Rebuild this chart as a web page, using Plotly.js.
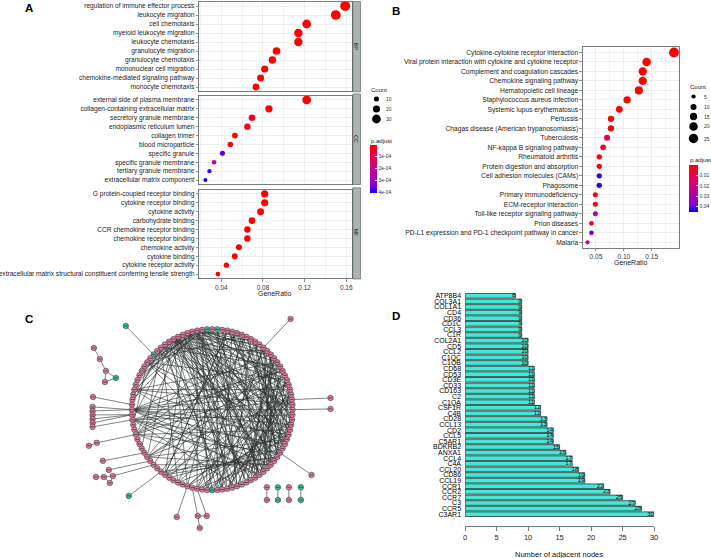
<!DOCTYPE html>
<html><head><meta charset="utf-8">
<script src="https://cdn.plot.ly/plotly-3.0.1.min.js"></script>
<style>html,body{margin:0;padding:0;background:#fff}#chart{width:711px;height:558px}</style>
</head><body><div id="chart"></div>
<script>
// ---------- Panel A : GO enrichment ----------
const bpTerms = ['regulation of immune effector process','leukocyte migration','cell chemotaxis','myeloid leukocyte migration','leukocyte chemotaxis','granulocyte migration','granulocyte chemotaxis','mononuclear cell migration','chemokine-mediated signaling pathway','monocyte chemotaxis'];
const bpRatio = [0.159,0.150,0.122,0.114,0.114,0.093,0.089,0.0816,0.0777,0.0733];
const bpCount = [39,37,30,28,28,23,22,20,19,18];
const bpPadj  = [2e-12,5e-15,3e-11,4e-10,6e-11,1e-10,2e-10,3e-9,5e-10,1e-8];

const ccTerms = ['external side of plasma membrane','collagen-containing extracellular matrix','secretory granule membrane','endoplasmic reticulum lumen','collagen trimer','blood microparticle','specific granule','specific granule membrane','tertiary granule membrane','extracellular matrix component'];
const ccRatio = [0.122,0.0857,0.0694,0.065,0.053,0.0486,0.041,0.033,0.0285,0.0246];
const ccCount = [30,21,17,16,13,12,10,8,7,6];
const ccPadj  = [1e-13,2e-6,4e-5,3e-5,1e-6,2e-5,3.7e-4,2.4e-4,3.8e-4,4.0e-4];

const mfTerms = ['G protein-coupled receptor binding','cytokine receptor binding','cytokine activity','carbohydrate binding','CCR chemokine receptor binding','chemokine receptor binding','chemokine activity','cytokine binding','cytokine receptor activity','extracellular matrix structural constituent conferring tensile strength'];
const mfRatio = [0.0816,0.0816,0.0777,0.0694,0.065,0.065,0.0569,0.0528,0.0448,0.0367];
const mfCount = [20,20,19,17,16,16,14,13,11,9];
const mfPadj  = [1e-9,3e-10,2e-8,1e-6,5e-11,4e-10,3e-9,2e-7,6e-6,1e-5];

const aTicks = [0.04,0.08,0.12,0.16];
const aTickText = ['0.04','0.08','0.12','0.16'];
const aMinor = [0.02,0.06,0.10,0.14];
const aCountLegend = [10,20,30];
const aPadjTicks = [1e-4,2e-4,3e-4,4e-4];
const aPadjText = ['1e-04','2e-04','3e-04','4e-04'];

// ---------- Panel B : KEGG enrichment ----------
const keggTerms = ['Cytokine-cytokine receptor interaction','Viral protein interaction with cytokine and cytokine receptor','Complement and coagulation cascades','Chemokine signaling pathway','Hematopoietic cell lineage','Staphylococcus aureus infection','Systemic lupus erythematosus','Pertussis','Chagas disease (American trypanosomiasis)','Tuberculosis','NF-kappa B signaling pathway','Rheumatoid arthritis','Protein digestion and absorption','Cell adhesion molecules (CAMs)','Phagosome','Primary immunodeficiency','ECM-receptor interaction','Toll-like receptor signaling pathway','Prion diseases','PD-L1 expression and PD-1 checkpoint pathway in cancer','Malaria'];
const keggRatio = [0.190,0.141,0.134,0.134,0.127,0.106,0.092,0.077,0.077,0.070,0.063,0.056,0.056,0.056,0.056,0.049,0.049,0.049,0.042,0.042,0.035];
const keggCount = [27,20,19,19,18,15,13,11,11,10,9,8,8,8,8,7,7,7,6,6,5];
const keggPadj  = [1e-15,1e-10,1e-9,5e-7,1e-8,2e-7,1e-4,6e-5,3e-4,0.010,0.004,0.002,0.0015,0.042,0.043,0.003,0.002,0.029,0.0025,0.040,0.021];
const bTicks = [0.05,0.10,0.15];
const bTickText = ['0.05','0.10','0.15'];
const bMinor = [0.025,0.075,0.125,0.175];
const bCountLegend = [5,10,15,20,25];
const bPadjTicks = [0.01,0.02,0.03,0.04];
const bPadjText = ['0.01','0.02','0.03','0.04'];

// ---------- Panel C : PPI network ----------
const ringSize = 100;             // nodes placed on the circle layout
const ringTeal = [24,26,38,75];
// satellite nodes (layout coordinates, circle radius = 1)
const outerX = [-1.075,0.975,-1.472,-1.398,-1.323,-1.199,-1.335,-1.484,-1.488,-1.488,-1.488,-1.488,-1.488,-1.488,-1.534,-1.435,-1.360,-1.286,-1.447,-1.348,-1.236,-1.273,-1.037,-0.441,-0.180,-0.068,-0.155,1.472,1.472,1.236,0.680,0.680,0.817,0.817,0.954,0.954,1.103,1.103];
const outerY = [1.040,1.127,0.766,0.630,0.481,0.394,0.344,0.158,0.034,-0.016,-0.065,-0.115,-0.165,-0.214,-0.449,-0.412,-0.636,-0.748,-0.836,-0.836,-0.824,-0.911,-1.072,-1.333,-1.320,-1.320,-1.470,0.145,0.009,-0.811,-0.964,-1.122,-0.964,-1.122,-0.964,-1.122,-0.964,-1.122];
const outerTeal = [1,0,0,0,0,1,0,0,0,0,0,0,0,0,0,0,0,0,0,0,0,0,1,0,0,0,0,0,0,0,0,0,1,1,0,0,1,1];
const edgeList = `
33-0 33-2 33-5 33-8 33-12 33-17 33-80 33-83 33-85 33-88 33-90 33-93 33-96 33-98 33-47 33-52 33-60 33-70 33-76
30-3 30-6 30-10 30-15 30-20 30-82 30-87 30-91 30-94 30-97 30-99 30-42 30-55 30-65 30-75 30-79
28-4 28-7 28-11 28-14 28-16 28-18 28-84 28-86 28-89 28-92 28-72 28-77 28-81
36-1 36-9 36-13 36-83 36-95 36-49 36-58 36-68 36-78
40-84 40-90 40-96 40-6 40-53 40-19
27-74 27-78 27-85 27-93 27-5 27-12
50-0 50-3 50-5 50-88 50-92 50-95 50-97 50-85 50-12 50-8
52-2 52-8 52-90 52-93 52-99 52-80 52-86
46-1 46-4 46-86 46-94 46-10
55-5 55-10 55-15 55-20 55-91 55-85 55-96
60-2 60-9 60-18 60-88 60-94 60-7
65-3 65-11 65-90 65-95 65-22
5-85 8-80 10-78 12-82 15-90 18-92 20-88 22-94 6-75 9-72 14-76 17-79 19-84 21-86 3-70 7-73 11-81 13-83 16-87 4-89 1-93 23-80 21-77 19-74 16-95 13-97
72-90 74-95 76-98 70-2 68-5 66-10 64-15 78-3 80-6
27-40 28-42 29-44 30-45 31-38 26-43 27-46 28-48 32-41 34-44 29-37
24-80 26-85 25-90 22-70
12-86 14-88 16-90 18-94 20-96 22-98 24-85 23-88 21-91 19-93 17-96 15-98 13-99 11-84 9-87 7-90 5-93 3-96 1-98
6-82 8-84 10-86 12-88 14-92 4-78 2-76 0-74 98-72 96-70 94-68 92-66 90-64 88-62 20-62 22-65 18-68 16-72 14-74 24-76
31-86 32-88 34-90 35-92 37-94 29-96 31-82 32-79 34-77 35-74
100-38 101-14 102-103 103-104 104-105 104-106 105-106 107-49 108-50 109-50 110-51 111-51 112-51 113-52
114-115 115-55 116-59 117-61 118-119 119-120 120-121 119-121 120-62 122-64 123-70 124-71 125-72 124-125 124-126
127-2 128-0 129-91 130-131 132-133 134-135 136-137`;

// ---------- Panel D : hub genes ----------
const dGenes = ['ATP8B4','COL3A1','COL1A1','CD4','CD36','CD1C','CCL3','C1R','COL2A1','CD5','CCL2','C1QC','C1QB','CD68','CD53','CD3E','CD33','CD163','C2','C1QA','CSF1R','C4B','CD28','CCL13','CD2','CCL5','C5AR1','BDKRB2','ANXA1','CCL4','C4A','CCL20','CD86','CCL19','CCR1','CCR2','CCR7','C3','CCR5','C3AR1'];
const dValues = [8,9,9,9,9,9,9,9,10,10,10,10,10,11,11,11,11,11,11,11,12,12,13,13,14,14,14,15,16,17,17,18,19,19,22,23,25,27,28,30];
const dTicks = [0,5,10,15,20,25,30];

// ================= drawing =================
const W=711,H=558;
const X=p=>p/W, Y=p=>1-p/H;
const neg = a=>a.map(v=>-v);
const sizeA = c=>1.6*Math.sqrt(c);
const sizeB = c=>1.9*Math.sqrt(c);
const cscale = [[0,'#0000FF'],[0.125,'#7300E0'],[0.25,'#9A00C2'],[0.5,'#CA0089'],[0.75,'#E8004E'],[0.875,'#F40030'],[1,'#FF0000']];
const gridC='#e3e8e8', borderC='#5a5a5a';
const FONT='Liberation Sans, Arial, sans-serif';

function px(domain, range, anchor, major, text, minor, showLabels){
  return {domain, range, anchor, type:'linear', autorange:false, tickmode:'array', tickvals:major, ticktext:text,
    showticklabels:showLabels, ticks:showLabels?'outside':'', ticklen:2.5, tickwidth:0.6, tickcolor:'#444',
    tickfont:{size:6.5,color:'#333'}, showgrid:true, gridcolor:gridC, gridwidth:0.7,
    minor:{tickmode:'array', tickvals:minor, showgrid:true, gridcolor:gridC, gridwidth:0.45, ticks:''},
    showline:true, mirror:true, linecolor:borderC, linewidth:0.8, zeroline:false, fixedrange:true};
}
function py(domain, terms, anchor, pad, fs){
  return {domain, anchor, type:'category', categoryorder:'array', categoryarray:terms, tickmode:'array', tickvals:terms,
    range:[terms.length-1+pad,-pad], autorange:false, ticks:'outside', ticklen:2.2, tickwidth:0.6, tickcolor:'#444',
    tickfont:{size:fs,color:'#1a1a1a'}, showgrid:true, gridcolor:gridC, gridwidth:0.7,
    showline:true, mirror:true, linecolor:borderC, linewidth:0.8, zeroline:false, fixedrange:true};
}

const traces=[];
const aX=[X(199),X(352.3)], aR=[0.01821,0.16538];
[[bpTerms,bpRatio,bpCount,bpPadj,'x','y'],[ccTerms,ccRatio,ccCount,ccPadj,'x2','y2'],[mfTerms,mfRatio,mfCount,mfPadj,'x3','y3']]
.forEach(([t,r,c,p,xa,ya])=>traces.push({type:'scatter',mode:'markers',x:r,y:t,xaxis:xa,yaxis:ya,
  marker:{size:c.map(sizeA),color:neg(p),coloraxis:'coloraxis',line:{width:0},opacity:1},hoverinfo:'skip',showlegend:false}));
traces.push({type:'scatter',mode:'markers',x:keggRatio,y:keggTerms,xaxis:'x4',yaxis:'y4',
  marker:{size:keggCount.map(sizeB),color:neg(keggPadj),coloraxis:'coloraxis2',line:{width:0},opacity:1},hoverinfo:'skip',showlegend:false});

// network
const nodeX=[],nodeY=[],nodeCol=[];
for(let i=0;i<ringSize;i++){const a=i*2*Math.PI/ringSize;nodeX.push(Math.cos(a));nodeY.push(Math.sin(a));nodeCol.push(ringTeal.includes(i)?'#2CC4A2':'#E47AA6');}
outerX.forEach((v,k)=>{nodeX.push(v);nodeY.push(outerY[k]);nodeCol.push(outerTeal[k]?'#2CC4A2':'#E47AA6');});
const ex=[],ey=[];
edgeList.trim().split(/\s+/).forEach(s=>{const [a,b]=s.split('-').map(Number);ex.push(nodeX[a],nodeX[b],null);ey.push(nodeY[a],nodeY[b],null);});
traces.push({type:'scatter',mode:'lines',x:ex,y:ey,xaxis:'x5',yaxis:'y5',line:{color:'#2a302e',width:0.6},hoverinfo:'skip',showlegend:false});
traces.push({type:'scatter',mode:'markers',x:nodeX,y:nodeY,xaxis:'x5',yaxis:'y5',marker:{size:5.5,color:nodeCol,line:{color:'#3a3a3a',width:0.6}},hoverinfo:'skip',showlegend:false});
traces.push({type:'scatter',mode:'markers',x:nodeX,y:nodeY,xaxis:'x5',yaxis:'y5',marker:{symbol:'line-ew',size:2.6,line:{color:'#2a2a2a',width:0.7}},hoverinfo:'skip',showlegend:false});

// bars
traces.push({type:'bar',orientation:'h',x:dValues,y:dGenes,xaxis:'x6',yaxis:'y6',marker:{color:'#40E8D8',line:{color:'#333',width:0.8}},hoverinfo:'skip',showlegend:false});
traces.push({type:'scatter',mode:'text',x:dValues,y:dGenes,text:dValues.map(String),textposition:'middle left',xaxis:'x6',yaxis:'y6',textfont:{size:6.2,color:'#111'},hoverinfo:'skip',showlegend:false});

// legend dots (overlay pixel axis)
const aLegY=[99,109,119], bLegY=[96.5,107,116.5,126.5,138.5];
traces.push({type:'scatter',mode:'markers',x:aCountLegend.map(()=>377),y:aLegY,xaxis:'x7',yaxis:'y7',marker:{size:aCountLegend.map(sizeA),color:'#000',opacity:1,line:{width:0}},hoverinfo:'skip',showlegend:false});
traces.push({type:'scatter',mode:'markers',x:bCountLegend.map(()=>694.5),y:bLegY,xaxis:'x7',yaxis:'y7',marker:{size:bCountLegend.map(sizeB),color:'#000',opacity:1,line:{width:0}},hoverinfo:'skip',showlegend:false});

const ann=[];
function A(t,x,y,o){ann.push(Object.assign({text:t,x:X(x),y:Y(y),xref:'paper',yref:'paper',showarrow:false,xanchor:'center',yanchor:'middle',font:{size:7,color:'#222'}},o||{}));}
const bold={font:{size:11.5,color:'#000',family:'Liberation Sans, Arial'},xanchor:'center'};
A('<b>A</b>',29,8,bold);A('<b>B</b>',397,11,bold);A('<b>C</b>',29,319,bold);A('<b>D</b>',397,316,bold);
A('GeneRatio',275,293.5);A('GeneRatio',631.7,262);
A('Count',369.5,90,{xanchor:'left',font:{size:6,color:'#222'}});A('Count',688.5,87,{xanchor:'left',font:{size:6,color:'#222'}});
A('p.adjust',369.5,140.5,{xanchor:'left',font:{size:6,color:'#222'}});A('p.adjust',688.5,160,{xanchor:'left',font:{size:6,color:'#222'}});
aCountLegend.forEach((v,k)=>A(String(v),385,aLegY[k],{xanchor:'left',font:{size:5,color:'#333'}}));
bCountLegend.forEach((v,k)=>A(String(v),702.5,bLegY[k],{xanchor:'left',font:{size:5,color:'#333'}}));
A('BP',357,47,{textangle:90,font:{size:5.5,color:'#222'}});A('CC',357,139.5,{textangle:90,font:{size:5.5,color:'#222'}});A('MF',357,233,{textangle:90,font:{size:5.5,color:'#222'}});
A('Number of adjacent nodes',560,554,{font:{size:7.5,color:'#111'}});

const shapes=[[1.5,91.8],[94,184.5],[187.8,279]].map(([a,b])=>({type:'rect',xref:'paper',yref:'paper',x0:X(353.3),x1:X(361),y0:Y(b),y1:Y(a),fillcolor:'#a9b4b3',line:{color:'#555',width:0.6},layer:'below'}));

const layout={width:W,height:H,margin:{l:0,r:0,t:0,b:0},paper_bgcolor:'#fff',plot_bgcolor:'rgba(0,0,0,0)',font:{family:FONT,color:'#222'},
  showlegend:false,bargap:0.17,annotations:ann,shapes:shapes,
  xaxis:px(aX,aR,'y',aTicks,aTickText,aMinor,false),
  yaxis:py([Y(91.5),Y(1.5)],bpTerms,'x',0.5,6.6),
  xaxis2:px(aX,aR,'y2',aTicks,aTickText,aMinor,false),
  yaxis2:py([Y(184.5),Y(95.5)],ccTerms,'x2',0.5,6.6),
  xaxis3:px(aX,aR,'y3',aTicks,aTickText,aMinor,true),
  yaxis3:py([Y(278.5),Y(189.5)],mfTerms,'x3',0.5,6.6),
  xaxis4:px([X(583.3),X(680)],[0.0259,0.1991],'y4',bTicks,bTickText,bMinor,true),
  yaxis4:py([Y(248),Y(46.7)],keggTerms,'x4',0.6,6.7),
  xaxis5:{domain:[X(80),X(340)],range:[-1.646,1.584],anchor:'y5',visible:false,fixedrange:true},
  yaxis5:{domain:[Y(535),Y(315)],range:[-1.557,1.176],anchor:'x5',visible:false,fixedrange:true},
  xaxis6:{domain:[X(465.7),X(655)],range:[0,30],autorange:false,anchor:'free',position:Y(526),tickmode:'array',tickvals:dTicks,
    showline:true,linecolor:'#555',linewidth:0.8,ticks:'outside',ticklen:4,tickwidth:0.8,tickcolor:'#555',tickfont:{size:7.5,color:'#222'},showgrid:false,zeroline:false,fixedrange:true},
  yaxis6:{domain:[Y(517),Y(293)],anchor:'x6',type:'category',categoryorder:'array',categoryarray:dGenes,tickmode:'array',tickvals:dGenes,
    range:[dGenes.length-0.5,-0.5],autorange:false,showline:false,ticks:'',ticklabelstandoff:3,tickfont:{size:7,color:'#000'},showgrid:false,zeroline:false,fixedrange:true},
  xaxis7:{domain:[0,1],range:[0,W],anchor:'y7',visible:false,fixedrange:true},
  yaxis7:{domain:[0,1],range:[H,0],anchor:'x7',visible:false,fixedrange:true},
  coloraxis:{cmin:-4.06e-4,cmax:-1.4e-6,colorscale:cscale,showscale:true,
    colorbar:{x:X(370),xanchor:'left',y:Y(145),yanchor:'top',len:48,lenmode:'pixels',thickness:7,thicknessmode:'pixels',
      outlinewidth:0,xpad:0,ypad:0,tickmode:'array',tickvals:neg(aPadjTicks),ticktext:aPadjText,ticks:'inside',ticklen:2,tickcolor:'#fff',tickfont:{size:5,color:'#333'}}},
  coloraxis2:{cmin:-0.0452,cmax:0,colorscale:cscale,showscale:true,
    colorbar:{x:X(689),xanchor:'left',y:Y(165),yanchor:'top',len:47,lenmode:'pixels',thickness:9,thicknessmode:'pixels',
      outlinewidth:0,xpad:0,ypad:0,tickmode:'array',tickvals:neg(bPadjTicks),ticktext:bPadjText,ticks:'inside',ticklen:2,tickcolor:'#fff',tickfont:{size:5,color:'#333'}}}
};
Plotly.newPlot('chart',traces,layout,{staticPlot:true,displayModeBar:false});
</script></body></html>
